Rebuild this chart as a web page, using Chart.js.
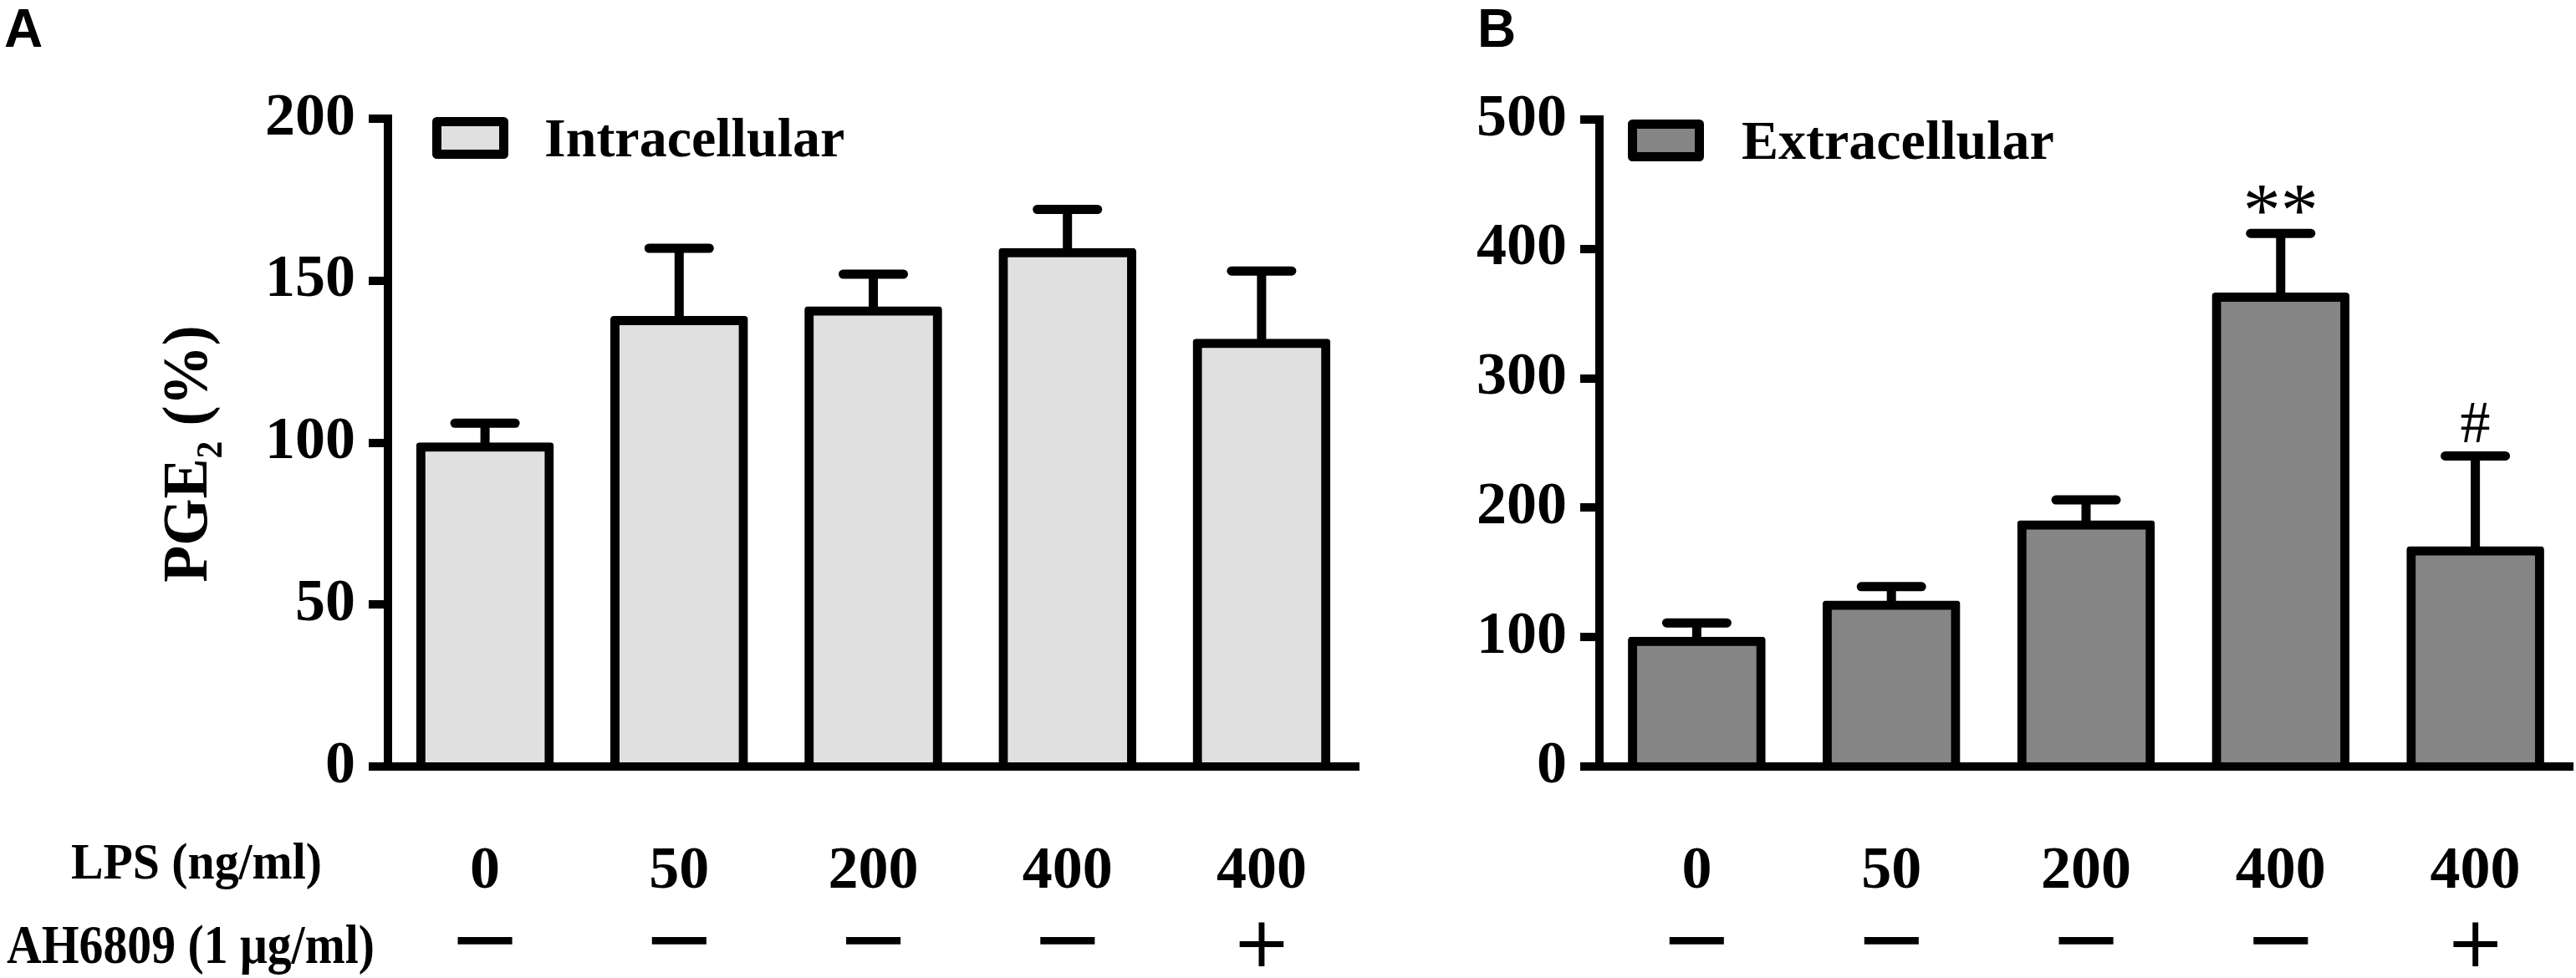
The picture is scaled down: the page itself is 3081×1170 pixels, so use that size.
<!DOCTYPE html>
<html>
<head>
<meta charset="utf-8">
<script src="https://cdn.jsdelivr.net/npm/chart.js@4.4.1/dist/chart.umd.min.js"></script>
<style>
  body { margin: 0; background: #fff; }
  #lienzo { position: relative; width: 3081px; height: 1170px; overflow: hidden; background: #fff; }
  canvas { position: absolute; top: 0; }
  .panel { position: absolute; top: 2px; font: bold 64px 'Liberation Sans', Arial, sans-serif; line-height: 1; color: #000; }
</style>
</head>
<body>
<div id="lienzo">
  <canvas id="graficoIntra" width="1660" height="1170" style="left:0"></canvas>
  <canvas id="graficoExtra" width="1421" height="1170" style="left:1660px"></canvas>
  <div class="panel" style="left:5px">A</div>
  <div class="panel" style="left:1767px">B</div>
</div>
<script>
// datos
const lps = ['0', '50', '200', '400', '400'];
const ah6809 = ['\u2212', '\u2212', '\u2212', '\u2212', '+'];
const intraMedia = [100, 139, 142, 160, 132];
const intraError = [6, 21, 10, 12, 21];
const extraMedia = [100, 128, 190, 366, 170];
const extraError = [11, 11, 16, 46, 70];
const extraMarcas = ['', '', '', '**', '#'];
const ticksIntra = [0, 50, 100, 150, 200];
const ticksExtra = [0, 100, 200, 300, 400, 500];

const serif = "'Liberation Serif', 'Times New Roman', serif";
const sans = "'DejaVu Sans', sans-serif";

// barras de error (solo hacia arriba) y marcas de significancia
function barrasError(errores, marcas) {
  return {
    id: 'barrasError',
    afterDatasetsDraw(chart) {
      const ctx = chart.ctx;
      const meta = chart.getDatasetMeta(0);
      const y = chart.scales.y;
      const datos = chart.data.datasets[0].data;
      ctx.save();
      ctx.strokeStyle = '#000';
      ctx.fillStyle = '#000';
      ctx.lineWidth = 11;
      errores.forEach((e, i) => {
        const x = meta.data[i].x;
        const yTop = y.getPixelForValue(datos[i]);
        const yCap = y.getPixelForValue(datos[i] + e);
        ctx.lineCap = 'butt';
        ctx.beginPath();
        ctx.moveTo(x, yTop + 6);
        ctx.lineTo(x, yCap);
        ctx.stroke();
        ctx.lineCap = 'round';
        ctx.beginPath();
        ctx.moveTo(x - 36, yCap);
        ctx.lineTo(x + 36, yCap);
        ctx.stroke();
        const m = marcas && marcas[i];
        if (m) {
          const tam = m === '#' ? 72 : 90;
          ctx.font = tam + 'px ' + serif;
          ctx.textAlign = 'center';
          ctx.textBaseline = 'alphabetic';
          const med = ctx.measureText(m);
          const abajo = yCap - (m === '#' ? 16 : 23);
          ctx.fillText(m, x, abajo - med.actualBoundingBoxDescent);
        }
      });
      ctx.restore();
    }
  };
}

// leyenda dentro del area del grafico
function leyendaInterna(dx, dy, sep) {
  return {
    id: 'leyendaInterna',
    afterDraw(chart) {
      const {ctx, chartArea} = chart;
      const ds = chart.data.datasets[0];
      const x = chartArea.left + dx;
      const y = chartArea.top + dy;
      ctx.save();
      ctx.fillStyle = ds.backgroundColor;
      ctx.fillRect(x + 5, y + 5, 81, 40);
      ctx.lineWidth = 11;
      ctx.lineJoin = 'round';
      ctx.strokeStyle = '#000';
      ctx.strokeRect(x + 5.5, y + 5.5, 80, 39);
      ctx.fillStyle = '#000';
      ctx.font = 'bold 66px ' + serif;
      ctx.textAlign = 'left';
      ctx.textBaseline = 'alphabetic';
      ctx.fillText(ds.label, x + 91 + sep, y + 47);
      ctx.restore();
    }
  };
}

// titulo del eje y y rotulos de las filas de tratamiento
const rotulosIzq = {
  id: 'rotulosIzq',
  afterDraw(chart) {
    const ctx = chart.ctx;
    ctx.save();
    ctx.fillStyle = '#000';
    ctx.textBaseline = 'alphabetic';
    // PGE2 (%)
    ctx.translate(247, 543);
    ctx.rotate(-Math.PI / 2);
    ctx.scale(0.95, 1);
    const fGrande = 'bold 76px ' + serif;
    const fSub = 'bold 44px ' + serif;
    ctx.font = fGrande;
    const w1 = ctx.measureText('PGE').width;
    const w3 = ctx.measureText(' (%)').width;
    ctx.font = fSub;
    const w2 = ctx.measureText('2').width;
    let x0 = -(w1 + w2 + w3) / 2;
    ctx.textAlign = 'left';
    ctx.font = fGrande;
    ctx.fillText('PGE', x0, 0);
    ctx.font = fSub;
    ctx.fillText('2', x0 + w1, 18);
    ctx.font = fGrande;
    ctx.fillText(' (%)', x0 + w1 + w2, 0);
    ctx.restore();

    ctx.save();
    ctx.fillStyle = '#000';
    ctx.textAlign = 'center';
    ctx.textBaseline = 'alphabetic';
    ctx.font = 'bold 62px ' + serif;
    ctx.fillText('LPS (ng/ml)', 235, 1051, 300);
    ctx.font = 'bold 65px ' + serif;
    ctx.fillText('AH6809 (1 \u03bcg/ml)', 228, 1152, 440);
    ctx.restore();
  }
};

function opcionesGrafico(ticksY, anchoY, padding) {
  return {
    responsive: false,
    animation: false,
    devicePixelRatio: 1,
    layout: { padding: padding },
    plugins: { legend: { display: false }, tooltip: { enabled: false } },
    scales: {
      x: {
        type: 'category',
        offset: true,
        weight: 0,
        grid: { display: false, drawTicks: false },
        border: { display: true, color: '#000', width: 10, z: 1 },
        ticks: {
          color: '#000', padding: 0, autoSkip: false, maxRotation: 0, minRotation: 0,
          font: { family: serif, size: 72, weight: 'bold', lineHeight: '253px' }
        },
        afterFit: s => { s.height = 150; }
      },
      x2: {
        type: 'category',
        position: 'bottom',
        labels: ah6809,
        offset: true,
        weight: 1,
        grid: { display: false, drawTicks: false },
        border: { display: false },
        ticks: {
          color: '#000', padding: 0, autoSkip: false, maxRotation: 0, minRotation: 0,
          font: ctx => (ctx.tick && ctx.tick.label === '+')
            ? { family: sans, size: 84, weight: 'normal', lineHeight: '135px' }
            : { family: sans, size: 104, weight: 'normal', lineHeight: '128px' }
        },
        afterFit: s => { s.height = 103; }
      },
      y: {
        min: ticksY[0],
        max: ticksY[ticksY.length - 1],
        afterBuildTicks: s => { s.ticks = ticksY.map(v => ({ value: v })); },
        grid: { display: true, drawOnChartArea: false, drawTicks: true, tickLength: 23, lineWidth: 10, color: '#000' },
        border: { display: true, color: '#000', width: 10 },
        ticks: {
          color: '#000', padding: 16,
          font: { family: serif, size: 72, weight: 'bold' }
        },
        afterFit: s => { s.width = anchoY; }
      }
    }
  };
}

function datosGrafico(etiqueta, valores, color) {
  return {
    labels: lps,
    datasets: [{
      label: etiqueta,
      data: valores,
      backgroundColor: color,
      borderColor: '#000',
      borderWidth: 11,
      borderSkipped: 'start',
      borderRadius: 4,
      barThickness: 164
    }]
  };
}

new Chart(document.getElementById('graficoIntra'), {
  type: 'bar',
  data: datosGrafico('Intracellular', intraMedia, '#e0e0e0'),
  options: opcionesGrafico(ticksIntra, 464, { left: 0, top: 142, right: 35, bottom: 0 }),
  plugins: [barrasError(intraError, null), leyendaInterna(53, -2, 43), rotulosIzq]
});

new Chart(document.getElementById('graficoExtra'), {
  type: 'bar',
  data: datosGrafico('Extracellular', extraMedia, '#858585'),
  options: opcionesGrafico(ticksExtra, 253, { left: 0, top: 143, right: 4, bottom: 0 }),
  plugins: [barrasError(extraError, extraMarcas), leyendaInterna(34, 0, 45)]
});
</script>
</body>
</html>
